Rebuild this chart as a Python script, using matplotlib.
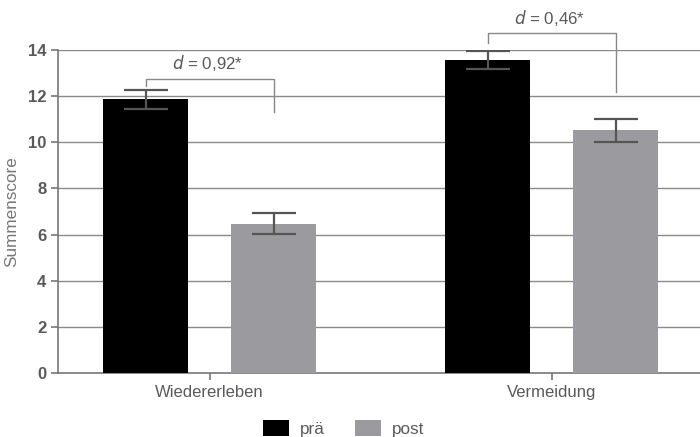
import matplotlib
matplotlib.use("Agg")
import matplotlib.pyplot as plt
import numpy as np

categories = ["Wiedererleben", "Vermeidung"]
series = ["prä", "post"]
pre_values = [11.85, 13.57]
pre_err = [0.40, 0.40]
post_values = [6.47, 10.52]
post_err = [0.45, 0.50]
effect_labels = ["d = 0,92*", "d = 0,46*"]
yticks = [0, 2, 4, 6, 8, 10, 12, 14]

plt.rcParams['font.family'] = ['Liberation Sans', 'DejaVu Sans']
txt = '#5a5a5a'
fig = plt.figure(figsize=(7, 4.37), dpi=100)
ax = fig.add_axes([0.083, 0.146, 0.917, 0.74])

x = np.arange(len(categories))
w = 0.25
off = 0.187
ax.bar(x - off, pre_values, w, color='black', label=series[0], zorder=3)
ax.bar(x + off, post_values, w, color='#9b9b9f', label=series[1], zorder=3)
ax.errorbar(x - off, pre_values, yerr=pre_err, fmt='none', ecolor='#555555',
            elinewidth=1.6, capsize=16, capthick=1.6, zorder=4)
ax.errorbar(x + off, post_values, yerr=post_err, fmt='none', ecolor='#555555',
            elinewidth=1.6, capsize=16, capthick=1.6, zorder=4)

# brackets
br = [(12.75, 12.45, 11.32, 13.45), (14.74, 14.30, 12.19, 15.38)]
for i, (top, lbot, rbot, ty) in enumerate(br):
    xl = x[i] - off
    xr = x[i] + off
    ax.plot([xl, xl, xr, xr], [lbot, top, top, rbot], color='#888888', lw=1.0,
            clip_on=False, zorder=5)
    d, rest = effect_labels[i].split(' ', 1)
    ax.text(x[i] - 0.005, ty, r'$\mathit{d}$' + ' ' + rest, ha='center', va='center',
            fontsize=12.2, color=txt, clip_on=False)

ax.set_xlim(-0.443, 1.434)
ax.set_ylim(0, 14.0)
ax.set_yticks(yticks)
ax.set_yticklabels([str(t) for t in yticks])
ax.set_xticks(x)
ax.set_xticklabels(categories)
for yv in yticks[1:]:
    ax.axhline(yv, color='#8a8a8a', lw=1.0, zorder=1)

for s in ['top', 'right']:
    ax.spines[s].set_visible(False)
for s in ['left', 'bottom']:
    ax.spines[s].set_color('#777777')
    ax.spines[s].set_linewidth(1.2)
ax.tick_params(axis='both', colors='#777777', labelcolor=txt, labelsize=12,
               width=1.2, length=5)
for lab in ax.get_yticklabels():
    lab.set_fontweight('bold')
ax.set_ylabel('Summenscore', color='#777777', fontsize=12.3, labelpad=6)

leg = fig.legend(loc='lower center', bbox_to_anchor=(0.491, -0.035), ncol=2, frameon=False,
                 fontsize=12.3, handlelength=1.5, handleheight=1.0, handletextpad=0.65,
                 columnspacing=1.8)
for t in leg.get_texts():
    t.set_color(txt)

fig.savefig('out.png', dpi=100)
